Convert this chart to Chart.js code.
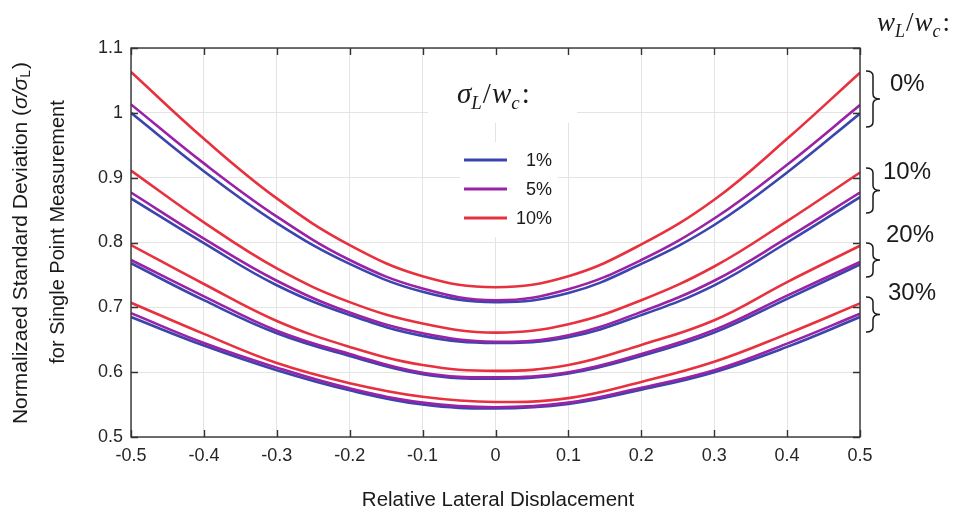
<!DOCTYPE html>
<html>
<head>
<meta charset="utf-8">
<script src="https://cdn.jsdelivr.net/npm/chart.js@4.4.0/dist/chart.umd.min.js"></script>
<style>
  html, body { margin: 0; padding: 0; background: #fff; }
  #wrap { width: 957px; height: 506px; }
</style>
</head>
<body>
<div id="wrap"><canvas id="chart" width="957" height="506"></canvas></div>
<script>
// relative lateral displacement (x)
const xValues = [-0.5, -0.4, -0.3, -0.2, -0.1, 0, 0.1, 0.2, 0.3, 0.4, 0.5];

// wL/wc = 0%   (sigmaL/wc = 1%, 5%, 10%)
const w0_s1  = [1.000, 0.910, 0.830, 0.767, 0.724, 0.708, 0.722, 0.767, 0.827, 0.908, 0.999];
const w0_s5  = [1.013, 0.922, 0.840, 0.773, 0.729, 0.711, 0.728, 0.773, 0.837, 0.920, 1.012];
const w0_s10 = [1.063, 0.960, 0.868, 0.796, 0.748, 0.731, 0.748, 0.797, 0.866, 0.960, 1.062];

// wL/wc = 10%
const w10_s1  = [0.868, 0.799, 0.734, 0.688, 0.656, 0.645, 0.654, 0.688, 0.734, 0.800, 0.870];
const w10_s5  = [0.877, 0.806, 0.741, 0.692, 0.660, 0.647, 0.657, 0.693, 0.741, 0.807, 0.877];
const w10_s10 = [0.911, 0.831, 0.760, 0.708, 0.675, 0.661, 0.674, 0.711, 0.763, 0.833, 0.908];

// wL/wc = 20%
const w20_s1  = [0.768, 0.711, 0.660, 0.625, 0.597, 0.590, 0.598, 0.625, 0.661, 0.713, 0.766];
const w20_s5  = [0.773, 0.717, 0.664, 0.628, 0.599, 0.592, 0.600, 0.628, 0.665, 0.718, 0.770];
const w20_s10 = [0.796, 0.736, 0.679, 0.639, 0.611, 0.602, 0.611, 0.642, 0.680, 0.739, 0.795];

// wL/wc = 30%
const w30_s1  = [0.685, 0.641, 0.603, 0.572, 0.550, 0.544, 0.551, 0.573, 0.600, 0.639, 0.685];
const w30_s5  = [0.691, 0.645, 0.607, 0.575, 0.553, 0.546, 0.553, 0.576, 0.603, 0.644, 0.690];
const w30_s10 = [0.707, 0.659, 0.614, 0.583, 0.562, 0.554, 0.560, 0.585, 0.616, 0.659, 0.706];

const sigmaLabels = ['1%', '5%', '10%'];
const groupLabels = ['0%', '10%', '20%', '30%'];

const xTicks = [-0.5, -0.4, -0.3, -0.2, -0.1, 0, 0.1, 0.2, 0.3, 0.4, 0.5];
const xTickLabels = ['-0.5', '-0.4', '-0.3', '-0.2', '-0.1', '0', '0.1', '0.2', '0.3', '0.4', '0.5'];
const yTicks = [0.5, 0.6, 0.7, 0.8, 0.9, 1.0, 1.1];
const yTickLabels = ['0.5', '0.6', '0.7', '0.8', '0.9', '1', '1.1'];

const colors = ['#3b45ae', '#9a22a5', '#e8313e'];
const SANS = '"Liberation Sans", Arial, sans-serif';
const SERIF = '"Liberation Serif", "DejaVu Serif", serif';

const groups = [
  [w0_s1, w0_s5, w0_s10],
  [w10_s1, w10_s5, w10_s10],
  [w20_s1, w20_s5, w20_s10],
  [w30_s1, w30_s5, w30_s10]
];

const datasets = [];
groups.forEach((g, gi) => {
  g.forEach((arr, k) => {
    datasets.push({
      label: groupLabels[gi] + ' / ' + sigmaLabels[k],
      data: xValues.map((x, i) => ({ x: x, y: arr[i] })),
      borderColor: colors[k],
      backgroundColor: colors[k],
      borderWidth: 2.6,
      pointRadius: 0,
      tension: 0.4,
      fill: false,
      order: 3 - k
    });
  });
});

// draw text made of pieces (for subscripts), starting at x
function richText(ctx, parts, x, y) {
  let cx = x;
  parts.forEach(p => {
    ctx.font = p.font;
    ctx.fillText(p.t, cx, y + (p.dy || 0));
    cx += ctx.measureText(p.t).width + (p.gap || 0);
  });
}
function richWidth(ctx, parts) {
  let w = 0;
  parts.forEach(p => { ctx.font = p.font; w += ctx.measureText(p.t).width + (p.gap || 0); });
  return w;
}

function drawBrace(ctx, x, y1, y2, w) {
  const ym = (y1 + y2) / 2;
  const h = w / 2;
  const q = Math.min(5, (y2 - y1) / 6);
  ctx.beginPath();
  ctx.moveTo(x, y1);
  ctx.quadraticCurveTo(x + h, y1, x + h, y1 + q);
  ctx.lineTo(x + h, ym - q);
  ctx.quadraticCurveTo(x + h, ym, x + w, ym);
  ctx.quadraticCurveTo(x + h, ym, x + h, ym + q);
  ctx.lineTo(x + h, y2 - q);
  ctx.quadraticCurveTo(x + h, y2, x, y2);
  ctx.stroke();
}

const decor = {
  id: 'decor',
  beforeDatasetsDraw(chart) {
    const ctx = chart.ctx;
    ctx.save();
    ctx.fillStyle = '#fff';
    ctx.fillRect(428, 49, 149, 74);   // behind sigma label
    ctx.fillRect(460, 142, 98, 95);   // behind legend
    ctx.restore();
  },
  afterDraw(chart) {
    const ctx = chart.ctx;
    const a = chart.chartArea;
    const xs = chart.scales.x, ys = chart.scales.y;
    ctx.save();

    // box + inward ticks
    ctx.strokeStyle = '#333';
    ctx.lineWidth = 1.4;
    ctx.strokeRect(a.left, a.top, a.right - a.left, a.bottom - a.top);
    ctx.beginPath();
    xTicks.forEach(v => {
      const px = Math.round(xs.getPixelForValue(v)) + 0.5;
      ctx.moveTo(px, a.bottom); ctx.lineTo(px, a.bottom - 7);
      ctx.moveTo(px, a.top); ctx.lineTo(px, a.top + 7);
    });
    yTicks.forEach(v => {
      const py = Math.round(ys.getPixelForValue(v)) + 0.5;
      ctx.moveTo(a.left, py); ctx.lineTo(a.left + 7, py);
      ctx.moveTo(a.right, py); ctx.lineTo(a.right - 7, py);
    });
    ctx.stroke();

    ctx.fillStyle = '#1a1a1a';
    ctx.textBaseline = 'alphabetic';
    ctx.textAlign = 'left';

    // sigma_L / w_c label
    richText(ctx, [
      { t: 'σ', font: 'italic 29px ' + SERIF },
      { t: 'L', font: 'italic 19px ' + SERIF, dy: 6, gap: 1 },
      { t: '/', font: '29px ' + SERIF, gap: 1 },
      { t: 'w', font: 'italic 29px ' + SERIF },
      { t: 'c', font: 'italic 19px ' + SERIF, dy: 6, gap: 2 },
      { t: ':', font: '29px ' + SERIF }
    ], 457, 103);

    // w_L / w_c label (top right)
    richText(ctx, [
      { t: 'w', font: 'italic 27px ' + SERIF },
      { t: 'L', font: 'italic 18px ' + SERIF, dy: 6, gap: 1 },
      { t: '/', font: '27px ' + SERIF, gap: 1 },
      { t: 'w', font: 'italic 27px ' + SERIF },
      { t: 'c', font: 'italic 18px ' + SERIF, dy: 6, gap: 2 },
      { t: ':', font: '27px ' + SERIF }
    ], 877, 31);

    // legend
    const legY = [160, 189, 218];
    sigmaLabels.forEach((lab, k) => {
      ctx.strokeStyle = colors[k];
      ctx.lineWidth = 3;
      ctx.beginPath();
      ctx.moveTo(464, legY[k]); ctx.lineTo(507, legY[k]);
      ctx.stroke();
      ctx.fillStyle = '#1a1a1a';
      ctx.font = '18px ' + SANS;
      ctx.textAlign = 'right';
      ctx.textBaseline = 'middle';
      ctx.fillText(lab, 552, legY[k] + 1);
    });

    // braces + group labels
    const braces = [[71, 127], [168, 213], [243, 277], [297, 332]];
    const labPos = [[890, 84], [883, 172], [886, 235], [888, 293]];
    ctx.strokeStyle = '#1a1a1a';
    ctx.lineWidth = 1.5;
    ctx.textAlign = 'left';
    ctx.textBaseline = 'middle';
    ctx.font = '24px ' + SANS;
    braces.forEach((b, i) => {
      drawBrace(ctx, 866, b[0], b[1], 14);
      ctx.fillText(groupLabels[i], labPos[i][0], labPos[i][1]);
    });

    // y axis title (two lines, rotated)
    ctx.textBaseline = 'middle';
    ctx.textAlign = 'left';
    const line1 = [
      { t: 'Normalizaed Standard Deviation (', font: '21px ' + SANS },
      { t: 'σ/σ', font: 'italic 21px ' + SANS },
      { t: 'L', font: '14px ' + SANS, dy: 5, gap: 1 },
      { t: ')', font: '21px ' + SANS }
    ];
    ctx.save();
    ctx.translate(21, 243);
    ctx.rotate(-Math.PI / 2);
    richText(ctx, line1, -richWidth(ctx, line1) / 2, 0);
    ctx.restore();

    ctx.save();
    ctx.translate(58, 232);
    ctx.rotate(-Math.PI / 2);
    ctx.font = '20px ' + SANS;
    ctx.textAlign = 'center';
    ctx.fillText('for Single Point Measurement', 0, 0);
    ctx.restore();

    // x axis title
    ctx.font = '20.5px ' + SANS;
    ctx.textAlign = 'center';
    ctx.textBaseline = 'alphabetic';
    ctx.fillText('Relative Lateral Displacement', 498, 506);

    ctx.restore();
  }
};

new Chart(document.getElementById('chart'), {
  type: 'line',
  data: { datasets: datasets },
  options: {
    responsive: false,
    animation: false,
    layout: { padding: { left: 0, top: 48, right: 97, bottom: 0 } },
    plugins: { legend: { display: false }, tooltip: { enabled: false } },
    scales: {
      x: {
        type: 'linear',
        min: -0.5,
        max: 0.5,
        afterBuildTicks: s => { s.ticks = xTicks.map(v => ({ value: v })); },
        afterFit: s => { s.height = 69; },
        grid: { color: '#e4e4e4', lineWidth: 1, drawTicks: false },
        border: { display: false },
        ticks: {
          padding: 8,
          color: '#262626',
          font: { family: SANS, size: 18 },
          maxRotation: 0,
          callback: (v, i) => xTickLabels[i]
        }
      },
      y: {
        type: 'linear',
        min: 0.5,
        max: 1.1,
        afterBuildTicks: s => { s.ticks = yTicks.map(v => ({ value: v })); },
        afterFit: s => { s.width = 131; },
        grid: { color: '#e4e4e4', lineWidth: 1, drawTicks: false },
        border: { display: false },
        ticks: {
          padding: 8,
          color: '#262626',
          font: { family: SANS, size: 18 },
          callback: (v, i) => yTickLabels[i]
        }
      }
    }
  },
  plugins: [decor]
});
</script>
</body>
</html>
